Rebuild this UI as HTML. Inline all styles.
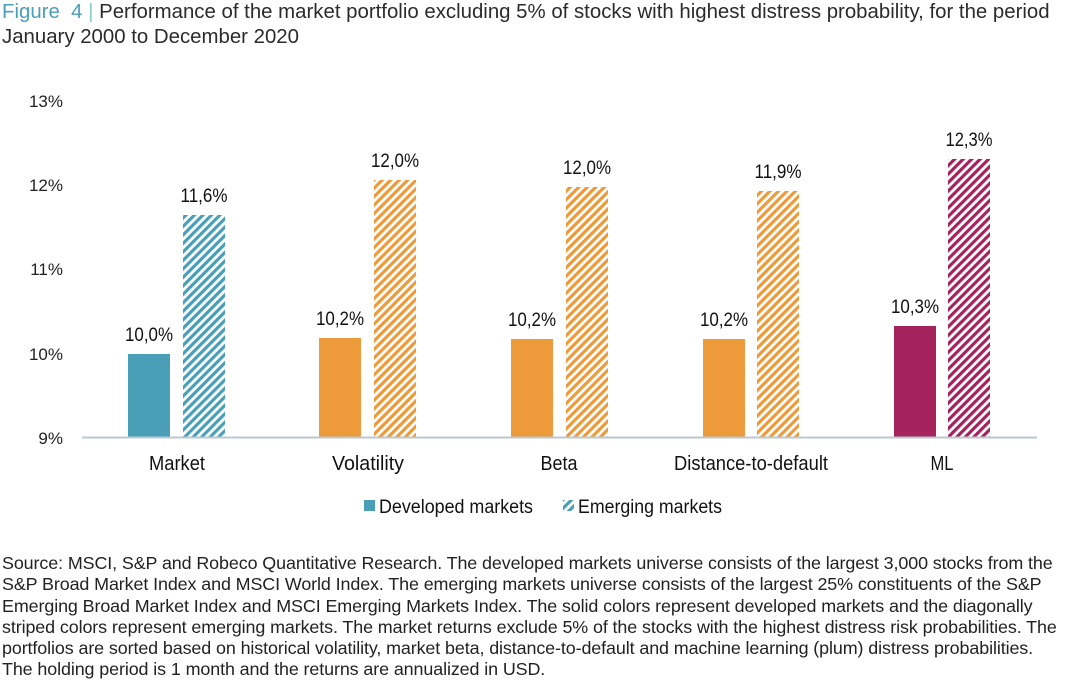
<!DOCTYPE html>
<html><head><meta charset="utf-8"><style>
body{margin:0;width:1080px;height:688px;background:#fff;overflow:hidden;font-family:"Liberation Sans",sans-serif;color:#222;}
.t{position:absolute;left:2px;top:0;font-size:20.4px;line-height:25px;color:#2b2b2b;white-space:nowrap;}
.s{position:absolute;left:2px;top:553px;width:1078px;font-size:17.9px;line-height:21.3px;color:#222;white-space:nowrap;letter-spacing:-0.1px;}
</style></head><body>
<div class="t"><span style="color:#4a9fb8">Figure&nbsp; 4</span> <span style="color:#8cc">|</span> Performance of the market portfolio excluding 5% of stocks with highest distress probability, for the period<br>January 2000 to December 2020</div>
<svg width="1080" height="688" style="position:absolute;left:0;top:0" font-family="'Liberation Sans',sans-serif">
<defs>
<pattern id="pt" width="6" height="6" patternUnits="userSpaceOnUse" patternTransform="rotate(45)"><rect width="6" height="6" fill="#fff"/><rect width="3.2" height="6" fill="#4a9fb8"/></pattern>
<pattern id="po" width="6" height="6" patternUnits="userSpaceOnUse" patternTransform="rotate(45)"><rect width="6" height="6" fill="#fff"/><rect width="3.2" height="6" fill="#ec9a3a"/></pattern>
<pattern id="pp" width="6" height="6" patternUnits="userSpaceOnUse" patternTransform="rotate(45)"><rect width="6" height="6" fill="#fff"/><rect width="3.2" height="6" fill="#a5235d"/></pattern>
</defs>
<g font-size="17" fill="#222" text-anchor="end">
<text x="63" y="107">13%</text><text x="63" y="191">12%</text><text x="63" y="275">11%</text><text x="63" y="360">10%</text><text x="63" y="444">9%</text>
</g>
<rect x="128" y="354" width="42" height="83" fill="#4a9fb8"/>
<rect x="183" y="215" width="42" height="222" fill="url(#pt)"/>
<rect x="319" y="338" width="42" height="99" fill="#ec9a3a"/>
<rect x="374" y="180" width="42" height="257" fill="url(#po)"/>
<rect x="511" y="339" width="42" height="98" fill="#ec9a3a"/>
<rect x="566" y="187" width="42" height="250" fill="url(#po)"/>
<rect x="703" y="339" width="42" height="98" fill="#ec9a3a"/>
<rect x="757" y="191" width="42" height="246" fill="url(#po)"/>
<rect x="894" y="326" width="42" height="111" fill="#a5235d"/>
<rect x="948" y="159" width="42" height="278" fill="url(#pp)"/>
<line x1="82" y1="437.5" x2="1037" y2="437.5" stroke="#b8c8d4" stroke-width="2"/>
<g font-size="19" fill="#111" text-anchor="middle">
<text x="149" y="341" textLength="48" lengthAdjust="spacingAndGlyphs">10,0%</text><text x="204" y="202" textLength="47" lengthAdjust="spacingAndGlyphs">11,6%</text>
<text x="340" y="325" textLength="48" lengthAdjust="spacingAndGlyphs">10,2%</text><text x="395" y="167" textLength="48" lengthAdjust="spacingAndGlyphs">12,0%</text>
<text x="532" y="326" textLength="48" lengthAdjust="spacingAndGlyphs">10,2%</text><text x="587" y="174" textLength="48" lengthAdjust="spacingAndGlyphs">12,0%</text>
<text x="724" y="326" textLength="48" lengthAdjust="spacingAndGlyphs">10,2%</text><text x="778" y="178" textLength="47" lengthAdjust="spacingAndGlyphs">11,9%</text>
<text x="915" y="313" textLength="48" lengthAdjust="spacingAndGlyphs">10,3%</text><text x="969" y="146" textLength="47" lengthAdjust="spacingAndGlyphs">12,3%</text>
</g>
<g font-size="20" fill="#111" text-anchor="middle">
<text x="177" y="470" textLength="56" lengthAdjust="spacingAndGlyphs">Market</text><text x="368" y="470" textLength="72" lengthAdjust="spacingAndGlyphs">Volatility</text><text x="559" y="470" textLength="37" lengthAdjust="spacingAndGlyphs">Beta</text><text x="751" y="470" textLength="154" lengthAdjust="spacingAndGlyphs">Distance-to-default</text><text x="942" y="470" textLength="23" lengthAdjust="spacingAndGlyphs">ML</text>
</g>
<rect x="364" y="500" width="11" height="11" fill="#4a9fb8"/>
<rect x="563" y="500" width="11" height="11" fill="url(#pt)"/>
<g font-size="19" fill="#111"><text x="379" y="513" textLength="154" lengthAdjust="spacingAndGlyphs">Developed markets</text><text x="578" y="513" textLength="144" lengthAdjust="spacingAndGlyphs">Emerging markets</text></g>
</svg>
<div class="s">Source: MSCI, S&amp;P and Robeco Quantitative Research. The developed markets universe consists of the largest 3,000 stocks from the<br>S&amp;P Broad Market Index and MSCI World Index. The emerging markets universe consists of the largest 25% constituents of the S&amp;P<br>Emerging Broad Market Index and MSCI Emerging Markets Index. The solid colors represent developed markets and the diagonally<br>striped colors represent emerging markets. The market returns exclude 5% of the stocks with the highest distress risk probabilities. The<br>portfolios are sorted based on historical volatility, market beta, distance-to-default and machine learning (plum) distress probabilities.<br>The holding period is 1 month and the returns are annualized in USD.</div>
</body></html>
